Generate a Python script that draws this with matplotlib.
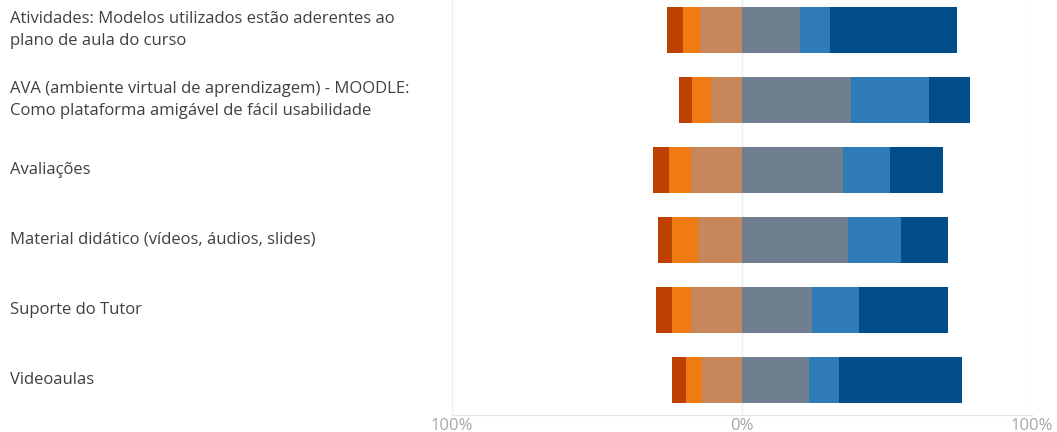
import matplotlib
matplotlib.use("Agg")
import matplotlib.pyplot as plt
import matplotlib.transforms as mtransforms
from matplotlib.ticker import FuncFormatter

plt.rcParams["font.family"] = ["Open Sans", "DejaVu Sans"]

# Survey items (top to bottom)
categories = [
    "Atividades: Modelos utilizados estão aderentes ao\nplano de aula do curso",
    "AVA (ambiente virtual de aprendizagem) - MOODLE:\nComo plataforma amigável de fácil usabilidade",
    "Avaliações",
    "Material didático (vídeos, áudios, slides)",
    "Suporte do Tutor",
    "Videoaulas",
]

# negative side shares (%), from the outside in
neg_strong = [5.6, 4.5, 5.5, 4.9, 5.6, 4.9]
neg_mid = [5.6, 6.3, 7.6, 8.7, 6.3, 5.5]
neg_weak = [14.6, 10.8, 17.6, 15.3, 17.7, 13.9]
# positive side shares (%), from zero outward
pos_neutral = [20.1, 37.5, 34.8, 36.5, 24.3, 23.2]
pos_mid = [10.4, 27.1, 16.2, 18.4, 16.0, 10.4]
pos_strong = [43.8, 13.9, 18.3, 16.3, 30.6, 42.4]

tick_values = [-100, 0, 100]

neg_colors = ["#BD4202", "#F07B12", "#C7875B"]
pos_colors = ["#6F7F8F", "#2E7BB5", "#024C87"]

fig = plt.figure(figsize=(10.57, 4.32), dpi=100)
ax = fig.add_axes([452 / 1057, (432 - 415) / 432, 580 / 1057, 420 / 432])

y = list(range(len(categories)))
h = 0.66

# negative stack: weak closest to zero
left = [0.0] * len(y)
for vals, col in zip([neg_weak, neg_mid, neg_strong], [neg_colors[2], neg_colors[1], neg_colors[0]]):
    left = [l - v for l, v in zip(left, vals)]
    ax.barh(y, vals, left=left, height=h, color=col, linewidth=0, zorder=3)

left = [0.0] * len(y)
for vals, col in zip([pos_neutral, pos_mid, pos_strong], pos_colors):
    ax.barh(y, vals, left=left, height=h, color=col, linewidth=0, zorder=3)
    left = [l + v for l, v in zip(left, vals)]

ax.set_xlim(-100, 100)
ax.set_ylim(len(y) - 0.5, -0.5)
ax.set_xticks(tick_values)
ax.xaxis.set_major_formatter(FuncFormatter(lambda v, p: f"{abs(int(v))}%"))
ax.tick_params(axis="x", length=0, colors="#A6A6A6", labelsize=12, pad=2)
ax.set_yticks([])
for s in ["top", "left", "right"]:
    ax.spines[s].set_visible(False)
ax.spines["bottom"].set_color("#E6E6E6")
ax.grid(axis="x", color="#EDEDED", linewidth=1, zorder=0)

trans = mtransforms.blended_transform_factory(fig.transFigure, ax.transData)
for yi, lab in zip(y, categories):
    ax.text(10 / 1057, yi, lab, transform=trans, ha="left", va="center",
            fontsize=12, color="#404040", linespacing=1.5, clip_on=False)

fig.savefig("out.png", dpi=100)
